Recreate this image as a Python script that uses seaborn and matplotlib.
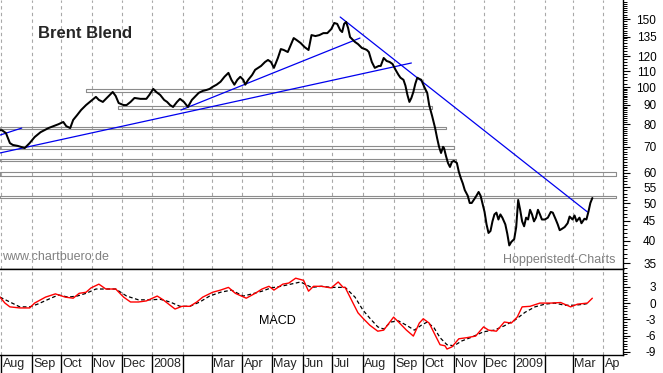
import pandas as pd
import matplotlib
matplotlib.use("Agg")
import matplotlib.pyplot as plt
import matplotlib.ticker as mticker
import seaborn as sns

# Brent closing prices (USD)
price_dates = [
    "2007-07-31", "2007-08-02", "2007-08-06", "2007-08-10", "2007-08-13", "2007-08-18", "2007-08-25",
    "2007-08-30", "2007-09-04", "2007-09-10", "2007-09-18", "2007-09-23", "2007-09-28", "2007-10-03",
    "2007-10-06", "2007-10-10", "2007-10-13", "2007-10-17", "2007-10-21", "2007-10-26", "2007-11-05",
    "2007-11-08", "2007-11-12", "2007-11-17", "2007-11-22", "2007-11-25", "2007-11-28", "2007-12-03",
    "2007-12-06", "2007-12-10", "2007-12-14", "2007-12-20", "2007-12-26", "2007-12-29", "2008-01-02",
    "2008-01-05", "2008-01-09", "2008-01-13", "2008-01-16", "2008-01-19", "2008-01-22", "2008-01-26",
    "2008-01-29", "2008-02-02", "2008-02-06", "2008-02-10", "2008-02-13", "2008-02-17", "2008-02-21",
    "2008-02-25", "2008-02-28", "2008-03-02", "2008-03-06", "2008-03-10", "2008-03-14", "2008-03-18",
    "2008-03-21", "2008-03-24", "2008-03-27", "2008-03-30", "2008-04-02", "2008-04-04", "2008-04-07",
    "2008-04-11", "2008-04-14", "2008-04-17", "2008-04-20", "2008-04-24", "2008-04-27", "2008-04-30",
    "2008-05-03", "2008-05-07", "2008-05-10", "2008-05-13", "2008-05-17", "2008-05-20", "2008-05-23",
    "2008-05-26", "2008-05-30", "2008-06-03", "2008-06-07", "2008-06-10", "2008-06-14", "2008-06-18",
    "2008-06-22", "2008-06-26", "2008-06-30", "2008-07-03", "2008-07-06", "2008-07-09", "2008-07-11",
    "2008-07-13", "2008-07-15", "2008-07-17", "2008-07-19", "2008-07-22", "2008-07-24", "2008-07-27",
    "2008-07-31", "2008-08-03", "2008-08-05", "2008-08-07", "2008-08-10", "2008-08-13", "2008-08-17",
    "2008-08-19", "2008-08-22", "2008-08-25", "2008-08-28", "2008-08-31", "2008-09-03", "2008-09-06",
    "2008-09-08", "2008-09-11", "2008-09-13", "2008-09-15", "2008-09-17", "2008-09-19", "2008-09-21",
    "2008-09-23", "2008-09-25", "2008-09-27", "2008-09-29", "2008-10-02", "2008-10-05", "2008-10-07",
    "2008-10-10", "2008-10-13", "2008-10-15", "2008-10-17", "2008-10-19", "2008-10-21", "2008-10-22",
    "2008-10-24", "2008-10-26", "2008-10-28", "2008-10-30", "2008-11-01", "2008-11-04", "2008-11-06",
    "2008-11-08", "2008-11-10", "2008-11-12", "2008-11-15", "2008-11-17", "2008-11-19", "2008-11-23",
    "2008-11-26", "2008-11-28", "2008-12-02", "2008-12-04", "2008-12-06", "2008-12-08", "2008-12-10",
    "2008-12-12", "2008-12-14", "2008-12-16", "2008-12-18", "2008-12-20", "2008-12-23", "2008-12-25",
    "2008-12-27", "2008-12-29", "2009-01-01", "2009-01-03", "2009-01-05", "2009-01-07", "2009-01-09",
    "2009-01-11", "2009-01-13", "2009-01-15", "2009-01-17", "2009-01-19", "2009-01-21", "2009-01-23",
    "2009-01-25", "2009-01-27", "2009-01-29", "2009-02-01", "2009-02-04", "2009-02-07", "2009-02-09",
    "2009-02-12", "2009-02-14", "2009-02-16", "2009-02-18", "2009-02-21", "2009-02-24", "2009-02-26",
    "2009-03-01", "2009-03-03", "2009-03-05", "2009-03-08", "2009-03-10", "2009-03-13", "2009-03-15",
    "2009-03-17", "2009-03-19", "2009-03-21",
]
price_values = [
    77.3, 77.3, 76.0, 71.6, 70.8, 70.4, 69.5,
    71.6, 74.2, 76.4, 78.3, 79.2, 80.1, 81.2,
    79.2, 78.3, 82.2, 84.6, 87.2, 89.8, 94.3,
    92.6, 91.5, 94.3, 97.1, 94.8, 90.9, 89.8,
    89.8, 91.5, 93.7, 93.2, 93.2, 95.4, 98.9,
    97.1, 95.4, 92.6, 91.5, 89.8, 88.8, 91.5,
    93.2, 91.5, 88.8, 92.6, 94.3, 96.6, 97.7,
    98.3, 98.9, 100.1, 101.4, 103.2, 106.3, 108.8,
    104.4, 101.4, 104.4, 106.3, 104.4, 101.4, 104.4,
    107.5, 110.8, 112.1, 113.4, 116.1, 117.5, 116.1,
    112.1, 118.9, 125.4, 124.7, 123.2, 128.4, 133.9,
    132.3, 130.0, 126.9, 124.7, 136.3, 135.5, 136.3,
    137.9, 137.9, 141.3, 146.5, 145.7, 140.4, 138.8,
    145.7, 147.4, 142.2, 134.7, 132.3, 130.8, 129.2,
    126.2, 125.4, 124.7, 123.2, 116.1, 112.1, 113.4,
    113.4, 118.9, 116.8, 116.1, 114.7, 110.8, 107.5,
    105.7, 104.4, 100.8, 95.4, 91.5, 93.7, 97.1,
    102.0, 105.7, 105.0, 104.4, 100.1, 96.6, 89.8,
    84.1, 78.3, 73.8, 70.0, 67.5, 70.0, 69.5,
    66.3, 63.6, 62.1, 64.0, 64.4, 63.6, 60.3,
    58.1, 56.3, 54.1, 52.3, 50.1, 50.1, 51.9,
    53.5, 52.3, 47.5, 44.1, 41.9, 42.4, 44.9,
    46.8, 47.3, 45.4, 46.8, 45.9, 44.1, 41.7,
    38.9, 39.7, 40.4, 43.4, 51.0, 48.1, 44.9,
    43.6, 45.9, 45.4, 48.1, 46.8, 44.9, 45.9,
    48.1, 46.8, 45.4, 45.4, 45.9, 47.5, 47.3,
    45.4, 44.1, 42.6, 42.9, 43.4, 44.4, 46.2,
    45.4, 46.5, 44.9, 45.9, 44.4, 45.6, 45.4,
    47.5, 50.1, 51.6,
]

# MACD line (red)
macd_dates = [
    "2007-07-31", "2007-08-05", "2007-08-10", "2007-08-20", "2007-08-30", "2007-09-04", "2007-09-15",
    "2007-09-25", "2007-10-05", "2007-10-13", "2007-10-19", "2007-10-26", "2007-10-31", "2007-11-08",
    "2007-11-15", "2007-11-25", "2007-12-03", "2007-12-10", "2007-12-18", "2007-12-26", "2008-01-06",
    "2008-01-12", "2008-01-19", "2008-01-24", "2008-01-31", "2008-02-08", "2008-02-15", "2008-02-21",
    "2008-03-02", "2008-03-10", "2008-03-18", "2008-03-25", "2008-04-05", "2008-04-14", "2008-04-21",
    "2008-04-28", "2008-05-03", "2008-05-12", "2008-05-18", "2008-05-25", "2008-06-02", "2008-06-07",
    "2008-06-12", "2008-06-20", "2008-06-30", "2008-07-07", "2008-07-12", "2008-07-14", "2008-07-22",
    "2008-07-27", "2008-08-01", "2008-08-08", "2008-08-16", "2008-08-22", "2008-09-01", "2008-09-06",
    "2008-09-14", "2008-09-21", "2008-09-27", "2008-10-01", "2008-10-07", "2008-10-13", "2008-10-18",
    "2008-10-23", "2008-10-25", "2008-10-30", "2008-11-06", "2008-11-14", "2008-11-23", "2008-12-01",
    "2008-12-06", "2008-12-14", "2008-12-22", "2008-12-29", "2009-01-04", "2009-01-09", "2009-01-17",
    "2009-01-27", "2009-02-07", "2009-02-17", "2009-02-27", "2009-03-06", "2009-03-16", "2009-03-21",
]
macd_values = [
    1.1, 0.0, -0.7, -0.9, -0.9, 0.0, 1.1,
    1.7, 1.1, 0.9, 1.8, 2.0, 2.8, 3.5,
    2.6, 2.6, 1.1, 0.2, 0.2, 0.4, 1.3,
    0.6, -0.4, -1.1, -0.6, -0.6, 0.2, 1.1,
    2.0, 2.4, 2.9, 1.8, 0.9, 1.8, 2.6,
    3.1, 2.4, 3.5, 3.7, 4.6, 4.2, 2.2,
    3.1, 3.1, 2.8, 3.9, 2.9, 2.9, 0.0,
    -1.8, -2.8, -4.1, -5.2, -5.0, -2.6, -3.5,
    -5.0, -6.1, -3.7, -2.9, -3.7, -5.9, -7.7,
    -7.9, -8.5, -8.1, -6.6, -6.4, -6.1, -4.4,
    -5.0, -5.2, -3.5, -3.7, -2.6, -0.7, -0.6,
    0.0, 0.0, 0.1, -0.7, -0.2, 0.0, 0.9,
]

# signal line (black dashed)
signal_dates = [
    "2007-07-31", "2007-08-10", "2007-08-20", "2007-08-30", "2007-09-07", "2007-09-18", "2007-09-28",
    "2007-10-08", "2007-10-17", "2007-10-26", "2007-11-05", "2007-11-15", "2007-11-25", "2007-12-06",
    "2007-12-18", "2007-12-29", "2008-01-09", "2008-01-19", "2008-01-29", "2008-02-08", "2008-02-18",
    "2008-02-28", "2008-03-10", "2008-03-21", "2008-04-02", "2008-04-11", "2008-04-21", "2008-04-30",
    "2008-05-10", "2008-05-20", "2008-05-30", "2008-06-10", "2008-06-20", "2008-06-30", "2008-07-14",
    "2008-07-24", "2008-08-01", "2008-08-08", "2008-08-16", "2008-08-22", "2008-08-29", "2008-09-06",
    "2008-09-14", "2008-09-22", "2008-09-29", "2008-10-05", "2008-10-12", "2008-10-18", "2008-10-25",
    "2008-11-01", "2008-11-09", "2008-11-19", "2008-12-01", "2008-12-12", "2008-12-22", "2009-01-02",
    "2009-01-12", "2009-01-22", "2009-02-01", "2009-02-11", "2009-02-21", "2009-03-03", "2009-03-13",
    "2009-03-18",
]
signal_values = [
    1.1, 0.2, -0.7, -0.7, -0.2, 0.7, 1.5,
    1.1, 1.3, 1.8, 2.6, 2.6, 2.6, 1.3,
    0.6, 0.6, 0.7, 0.2, -0.6, -0.6, 0.2,
    1.3, 2.0, 2.4, 1.3, 1.7, 2.2, 2.8,
    3.1, 3.5, 3.9, 2.9, 3.1, 2.9, 2.9,
    1.1, -1.3, -2.8, -4.4, -4.8, -3.5, -3.3,
    -4.1, -5.0, -4.1, -3.5, -4.6, -6.4, -7.7,
    -7.9, -7.0, -6.3, -5.3, -5.0, -4.2, -3.1,
    -1.7, -0.7, -0.2, 0.0, -0.4, -0.4, -0.2,
    0.0,
]

# support / resistance bands
level_low = [97.1, 87.7, 77.8, 69.1, 64.4, 58.8, 51.6]
level_high = [98.9, 89.3, 78.8, 70.3, 65.1, 60.3, 52.3]
level_start = ["2007-10-26", "2007-11-27", "2007-07-31", "2007-07-31", "2007-07-31", "2007-07-31", "2007-07-31"]
level_end = ["2008-10-03", "2008-10-10", "2008-10-24", "2008-11-01", "2008-11-03", "2009-04-14", "2009-04-14"]

# trend lines
trend_start_dates = ["2007-07-31", "2008-01-30", "2007-07-31", "2008-07-09"]
trend_start_prices = [67.5, 87.2, 75.1, 151.8]
trend_end_dates = ["2008-09-19", "2008-07-29", "2007-08-22", "2009-03-16"]
trend_end_prices = [115.4, 133.9, 78.3, 47.5]

month_labels = ["Aug", "Sep", "Oct", "Nov", "Dec", "2008", "", "Mar", "Apr", "May", "Jun",
                "Jul", "Aug", "Sep", "Oct", "Nov", "Dec", "2009", "", "Mar", "Ap"]
price_ticks = [35, 40, 45, 50, 55, 60, 70, 80, 90, 100, 110, 120, 135, 150]
macd_ticks = [3, 0, -3, -6, -9]

sns.set_style("white")
plt.rcParams["font.family"] = ["Liberation Sans", "DejaVu Sans"]

W, H = 663, 373
fig = plt.figure(figsize=(W / 100, H / 100), dpi=100)
ax = fig.add_axes([0, 1 - 269 / H, 623 / W, 269 / H])
ax2 = fig.add_axes([0, 18 / H, 623 / W, (355 - 269) / H], sharex=ax)

months = pd.date_range("2007-08-01", "2009-04-01", freq="MS")
grid_kw = dict(color="#a8a8a8", linestyle=(0, (3, 3)), linewidth=0.8)

# price panel
for lo, hi, s, e in zip(level_low, level_high, pd.to_datetime(level_start), pd.to_datetime(level_end)):
    ax.plot([s, e, e, s, s], [lo, lo, hi, hi, lo], color="#8c8c8c", lw=0.8, zorder=2)

for d0, p0, d1, p1 in zip(pd.to_datetime(trend_start_dates), trend_start_prices,
                          pd.to_datetime(trend_end_dates), trend_end_prices):
    ax.plot([d0, d1], [p0, p1], color="#0000ee", lw=0.9, zorder=3)

sns.lineplot(x=pd.to_datetime(price_dates), y=price_values, ax=ax, color="black", lw=1.45, zorder=4)
ax.set_yscale("log")
ax.set_ylim(33.8, 168)

minor_price = [v for v in list(range(34, 100)) + list(range(100, 168, 2)) if v not in price_ticks]
ax.yaxis.tick_right()
ax.yaxis.set_major_locator(mticker.FixedLocator(price_ticks))
ax.yaxis.set_major_formatter(mticker.FixedFormatter([str(t) for t in price_ticks]))
ax.yaxis.set_minor_locator(mticker.FixedLocator(minor_price))
ax.yaxis.set_minor_formatter(mticker.NullFormatter())

# macd panel
sns.lineplot(x=pd.to_datetime(signal_dates), y=signal_values, ax=ax2, color="black",
             lw=0.9, linestyle=(0, (3, 2)))
sns.lineplot(x=pd.to_datetime(macd_dates), y=macd_values, ax=ax2, color="#ff0000", lw=1.0)
ax2.set_ylim(-9.6, 6.3)
ax2.yaxis.tick_right()
ax2.yaxis.set_major_locator(mticker.FixedLocator(macd_ticks))
ax2.yaxis.set_major_formatter(mticker.FixedFormatter([str(t) for t in macd_ticks]))
ax2.yaxis.set_minor_locator(mticker.FixedLocator([v / 2 for v in range(-19, 13) if v % 6 != 0]))

for a in (ax, ax2):
    a.set_xlabel("")
    a.set_ylabel("")
    a.set_xticks(months)
    a.grid(axis="x", **grid_kw)
    a.grid(axis="y", visible=False)
    a.tick_params(axis="x", length=0, labelbottom=False)
    a.tick_params(axis="y", which="major", direction="out", length=5, width=0.8,
                  pad=19, labelsize=8.5, colors="black")
    a.tick_params(axis="y", which="minor", direction="out", length=3, width=0.7, colors="black")
    for lab in a.get_yticklabels():
        lab.set_horizontalalignment("right")
    a.spines["left"].set_visible(False)
    for sp in ("right", "bottom", "top"):
        a.spines[sp].set_color("black")
        a.spines[sp].set_linewidth(1.0)
    a.set_facecolor("white")
ax.spines["top"].set_visible(False)

ax.set_xlim(pd.Timestamp("2007-07-31"), pd.Timestamp("2009-04-21"))

# month strip below the macd panel
trans = ax2.get_xaxis_transform()
strip = 18 / 86
for d, lab in zip(months, month_labels):
    ax2.plot([d, d], [0, -strip], transform=trans, color="black", lw=1.0, clip_on=False)
    ax2.text(d + pd.Timedelta(days=1.5), -strip / 2, lab, transform=trans, ha="left",
             va="center", fontsize=9, clip_on=False)

fig.text(38 / W, 1 - 33 / H, "Brent Blend", fontsize=12, fontweight="bold", va="center", ha="left")
fig.text(2 / W, 1 - 257 / H, "www.chartbuero.de", fontsize=9, color="#808080", va="center", ha="left")
fig.text(615 / W, 1 - 260 / H, "Hoppenstedt-Charts", fontsize=9, color="#808080", va="center", ha="right")
fig.text(259 / W, 1 - 321 / H, "MACD", fontsize=9, color="black", va="center", ha="left")

fig.savefig("out.png", dpi=100, facecolor="white")
